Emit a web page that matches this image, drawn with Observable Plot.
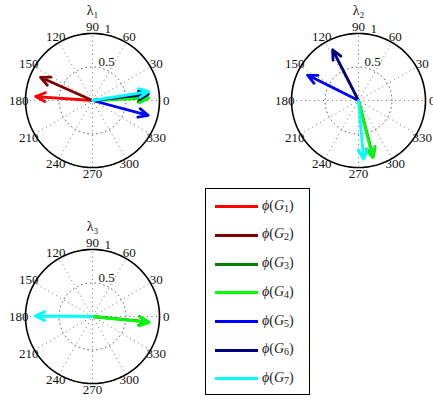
<!DOCTYPE html>
<html>
<head>
<meta charset="utf-8">
<script src="https://cdn.jsdelivr.net/npm/d3@7"></script>
<script src="https://cdn.jsdelivr.net/npm/@observablehq/plot@0.6"></script>
<style>
  html, body { margin: 0; padding: 0; background: #fff; }
  #wrap { position: relative; width: 433px; height: 403px; overflow: hidden; font-family: "Liberation Serif", "DejaVu Serif", serif; }
  #legend { position: absolute; left: 205px; top: 188px; width: 105px; height: 207px; border: 1px solid #000; box-sizing: border-box; background: #fff; }
  .row { position: absolute; left: 0; height: 20px; width: 100%; }
  .row .sw { position: absolute; left: 9px; top: 8.5px; width: 43px; height: 3px; }
  .row .lb { position: absolute; left: 56px; top: 0px; font-size: 14px; line-height: 18px; color: #222; white-space: nowrap; }
  .row .lb sub { font-size: 10px; font-style: normal; vertical-align: -2px; line-height: 0; }
</style>
</head>
<body>
<div id="wrap"></div>
<script>
// ---- data ----
const groups = ["G1", "G2", "G3", "G4", "G5", "G6", "G7"];
const groupColors = ["#ff0000", "#800000", "#008000", "#00ff00", "#0000ff", "#000080", "#00ffff"];
const lambdaNames = ["λ₁", "λ₂", "λ₃"];
// magnitudes (r) and angles (degrees) for each group, per eigenvalue
const lambda1R = [0.85, 0.85, 0.82, 0.84, 0.86, 0.84, 0.85];
const lambda1Theta = [176, 156, 4, 2.5, 345, 6.5, 9];
const lambda2R = [0, 0, 0.87, 0.88, 0.85, 0.85, 0.88];
const lambda2Theta = [0, 0, 284.5, 284, 153.5, 117, 275];
const lambda3R = [0, 0, 0.84, 0.85, 0, 0, 0.855];
const lambda3Theta = [0, 0, 354.5, 354, 0, 0, 179.5];
const angleTicks = [0, 30, 60, 90, 120, 150, 180, 210, 240, 270, 300, 330];
const radialTicks = [0.5, 1];

// ---- layout (panel centres in radius units; radius 1 = 67 px) ----
const R = 67, W = 433, H = 403;
const panels = [
  {name: lambdaNames[0], cx: 0, cy: 0, r: lambda1R, t: lambda1Theta},
  {name: lambdaNames[1], cx: 266 / R, cy: 0, r: lambda2R, t: lambda2Theta},
  {name: lambdaNames[2], cx: 0, cy: -216 / R, r: lambda3R, t: lambda3Theta}
];
const rad = d => d * Math.PI / 180;
const px = (p, r, a) => p.cx + r * Math.cos(rad(a));
const py = (p, r, a) => p.cy + r * Math.sin(rad(a));

const arrows = [], spokes = [], rings = [], outer = [], aLabels = [], rLabels = [], titles = [];
panels.forEach((p, k) => {
  groups.forEach((g, i) => {
    if (p.r[i] > 0) arrows.push({k, g, c: groupColors[i], x1: p.cx, y1: p.cy, x2: px(p, p.r[i], p.t[i]), y2: py(p, p.r[i], p.t[i])});
  });
  angleTicks.forEach(a => {
    if (a < 180) spokes.push({x1: px(p, 1, a + 180), y1: py(p, 1, a + 180), x2: px(p, 1, a), y2: py(p, 1, a)});
    aLabels.push({x: px(p, 1.1, a), y: py(p, 1.1, a), label: String(a)});
  });
  for (let j = 0; j <= 180; j++) {
    const a = j * 2;
    rings.push({k, x: px(p, 0.5, a), y: py(p, 0.5, a)});
    outer.push({k, x: px(p, 1, a), y: py(p, 1, a)});
  }
  radialTicks.forEach(r => rLabels.push({x: px(p, r + 0.025, 80), y: py(p, r + 0.025, 80), label: String(r)}));
  titles.push({x: p.cx, y: p.cy + 90 / R, label: p.name});
});

const font = "Liberation Serif, DejaVu Serif, serif";
const chart = Plot.plot({
  width: W, height: H,
  margin: 0,
  x: {domain: [-92 / R, (W - 92) / R], axis: null},
  y: {domain: [-(H - 100) / R, 100 / R], axis: null},
  style: {fontFamily: font, background: "transparent", overflow: "hidden"},
  marks: [
    Plot.link(spokes, {x1: "x1", y1: "y1", x2: "x2", y2: "y2", stroke: "#555", strokeWidth: 0.9, strokeDasharray: "0.9,3.6"}),
    Plot.line(rings, {x: "x", y: "y", z: "k", stroke: "#555", strokeWidth: 0.9, strokeDasharray: "0.9,3.6"}),
    Plot.line(outer, {x: "x", y: "y", z: "k", stroke: "#000", strokeWidth: 1.6}),
    Plot.text(aLabels, {x: "x", y: "y", text: "label", fontSize: 13, fill: "#111"}),
    Plot.text(rLabels, {x: "x", y: "y", text: "label", fontSize: 13, fill: "#111", textAnchor: "start", lineAnchor: "bottom"}),
    Plot.text(titles, {x: "x", y: "y", text: "label", fontSize: 14, fill: "#111"}),
    Plot.arrow(arrows, {x1: "x1", y1: "y1", x2: "x2", y2: "y2", stroke: "c", strokeWidth: 2.8, headLength: 5.6, headAngle: 50})
  ]
});
const wrap = document.getElementById("wrap");
wrap.appendChild(chart);

// ---- legend ----
const legend = document.createElement("div");
legend.id = "legend";
groups.forEach((g, i) => {
  const row = document.createElement("div");
  row.className = "row";
  row.style.top = (7.7 + i * 28.7) + "px";
  row.innerHTML = `<div class="sw" style="background:${groupColors[i]}"></div><div class="lb"><i>ϕ</i>(<i>G</i><sub>${g.slice(1)}</sub>)</div>`;
  legend.appendChild(row);
});
wrap.appendChild(legend);
</script>
</body>
</html>
